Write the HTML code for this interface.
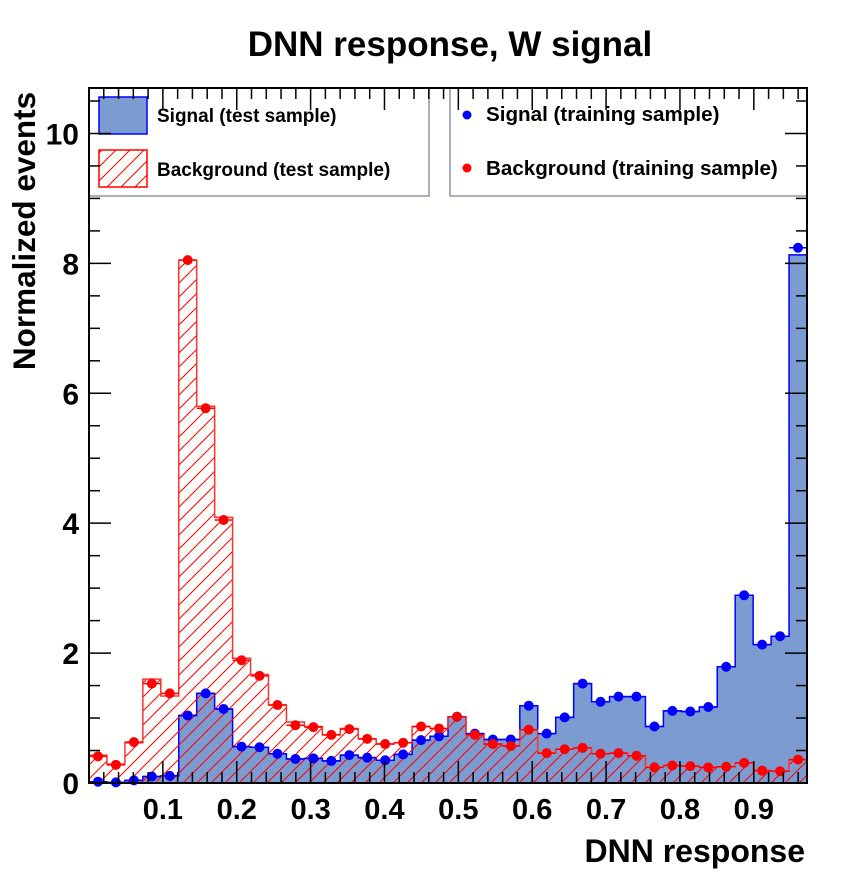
<!DOCTYPE html>
<html><head><meta charset="utf-8"><style>
body{margin:0;background:#fff;}
svg text{font-family:"Liberation Sans",sans-serif;font-weight:bold;fill:#000;}
</style></head><body>
<svg id="chart" width="850" height="889" viewBox="0 0 850 889" xmlns="http://www.w3.org/2000/svg">
<defs>
<pattern id="hatch" patternUnits="userSpaceOnUse" width="14" height="14">
<path d="M-1,15 L15,-1 M-8,8 L8,-8 M6,22 L22,6" stroke="#ff0000" stroke-width="1"/>
</pattern>
</defs>
<rect x="0" y="0" width="850" height="889" fill="#fff"/>
<rect x="89" y="88" width="718" height="695" fill="#fffffd"/>
<g id="hists"></g>
<g>
<rect x="89" y="88" width="340" height="108" fill="#fffffd" stroke="#8a96a6" stroke-width="1.5"/>
<rect x="450" y="88" width="357" height="108" fill="#fffffd" stroke="#8a96a6" stroke-width="1.5"/>
<rect x="99" y="97" width="48" height="37" fill="#7b9bd1" stroke="#0000ff" stroke-width="1.5"/>
<text x="157" y="122" font-size="19">Signal (test sample)</text>
<rect x="99" y="150" width="48" height="37" fill="url(#hatch)" stroke="#ff0000" stroke-width="1.5"/>
<text x="157" y="176" font-size="19">Background (test sample)</text>
<circle cx="467" cy="115" r="4.5" fill="#0000ff"/>
<text x="486" y="121" font-size="20.6">Signal (training sample)</text>
<circle cx="467" cy="168" r="4.5" fill="#ff0000"/>
<text x="486" y="175" font-size="20.6">Background (training sample)</text>
</g>
<g id="axes"></g>
<text x="450" y="56" font-size="35" text-anchor="middle">DNN response, W signal</text>
<text x="805" y="862" font-size="32" text-anchor="end">DNN response</text>
<text transform="translate(35,231) rotate(-90)" font-size="31.5" text-anchor="middle">Normalized events</text>
</svg>
<script>
const sigTest=[0.02,0.01,0.04,0.1,0.11,1.04,1.38,1.14,0.56,0.55,0.45,0.37,0.38,0.34,0.43,0.39,0.35,0.44,0.66,0.72,1.02,0.76,0.67,0.67,1.19,0.76,1.01,1.53,1.25,1.33,1.33,0.87,1.11,1.10,1.17,1.79,2.89,2.13,2.26,8.13];
const sigTrain=[0.02,0.01,0.04,0.1,0.11,1.04,1.38,1.14,0.56,0.55,0.45,0.37,0.38,0.34,0.43,0.39,0.35,0.44,0.66,0.72,1.02,0.76,0.67,0.67,1.19,0.76,1.01,1.53,1.25,1.33,1.33,0.87,1.11,1.10,1.17,1.79,2.89,2.13,2.26,8.24];
const bkgTest=[0.43,0.29,0.62,1.6,1.34,8.05,5.8,4.09,1.92,1.67,1.2,0.94,0.87,0.74,0.84,0.68,0.6,0.62,0.87,0.84,1.02,0.74,0.6,0.57,0.82,0.46,0.52,0.54,0.45,0.46,0.42,0.24,0.27,0.26,0.24,0.25,0.31,0.19,0.18,0.36];
const bkgTrain=[0.41,0.28,0.63,1.53,1.38,8.05,5.77,4.05,1.89,1.65,1.2,0.89,0.86,0.74,0.83,0.68,0.6,0.62,0.87,0.84,1.02,0.74,0.6,0.57,0.82,0.46,0.52,0.54,0.45,0.46,0.42,0.24,0.27,0.26,0.24,0.25,0.31,0.19,0.18,0.36];
const xTicks=[0.1,0.2,0.3,0.4,0.5,0.6,0.7,0.8,0.9];
const yTicks=[0,2,4,6,8,10];
const NS="http://www.w3.org/2000/svg";
const X0=89,X1=807,Y0=783,Y1=88,XMAX=0.972,YMAX=10.7;
const xs=v=>X0+(v/XMAX)*(X1-X0);
const ys=v=>Y0-(v/YMAX)*(Y0-Y1);
const nb=sigTest.length, bw=XMAX/nb;
function mk(tag,attrs,parent){const e=document.createElementNS(NS,tag);for(const k in attrs)e.setAttribute(k,attrs[k]);parent.appendChild(e);return e;}
const H=document.getElementById('hists'), A=document.getElementById('axes');
function stepPath(vals){let d='M'+xs(0)+','+ys(0);for(let i=0;i<nb;i++){d+=' L'+xs(i*bw)+','+ys(vals[i])+' L'+xs((i+1)*bw)+','+ys(vals[i]);}d+=' L'+xs(XMAX)+','+ys(0)+' Z';return d;}
let p=mk('path',{d:stepPath(sigTest),fill:'#7b9bd1',stroke:'#0000ff','stroke-width':1.5},H);


p=mk('path',{d:stepPath(bkgTest),fill:'url(#hatch)',stroke:'#ff3333','stroke-width':1.5},H);


function pts(vals,col,name){for(let i=0;i<nb;i++){const cx=xs((i+0.5)*bw),cy=ys(vals[i]);
const l=mk('line',{x1:xs(i*bw),x2:xs((i+1)*bw),y1:cy,y2:cy,stroke:col,'stroke-width':1.5},H);


const c=mk('circle',{cx:cx,cy:cy,r:5,fill:col},H);

}}
pts(sigTrain,'#0000ff','signal-training');
pts(bkgTrain,'#ff0000','background-training');
const f=mk('rect',{x:X0,y:Y1,width:X1-X0,height:Y0-Y1,fill:'none',stroke:'#000','stroke-width':2},A);


for(let k=1;k*0.02<=XMAX;k++){const v=k*0.02;const major=(k%5===0);const L=major?22:11;const x=xs(v);
const t1=mk('line',{x1:x,x2:x,y1:Y0,y2:Y0-L,stroke:'#000','stroke-width':1.5},A);


const t2=mk('line',{x1:x,x2:x,y1:Y1,y2:Y1+L,stroke:'#000','stroke-width':1.5},A);

}
xTicks.forEach(v=>{const t=mk('text',{x:xs(v),y:819,'font-size':29,'text-anchor':'middle'},A);t.textContent=v.toFixed(1);

});
for(let k=0;k*0.5<=YMAX;k++){const v=k*0.5;const major=(k%4===0);const L=major?22:11;const y=ys(v);
const t1=mk('line',{x1:X0,x2:X0+L,y1:y,y2:y,stroke:'#000','stroke-width':1.5},A);


const t2=mk('line',{x1:X1,x2:X1-L,y1:y,y2:y,stroke:'#000','stroke-width':1.5},A);

}
yTicks.forEach(v=>{const t=mk('text',{x:79,y:ys(v)+11,'font-size':30,'text-anchor':'end'},A);t.textContent=String(v);

});
</script>
</body></html>
